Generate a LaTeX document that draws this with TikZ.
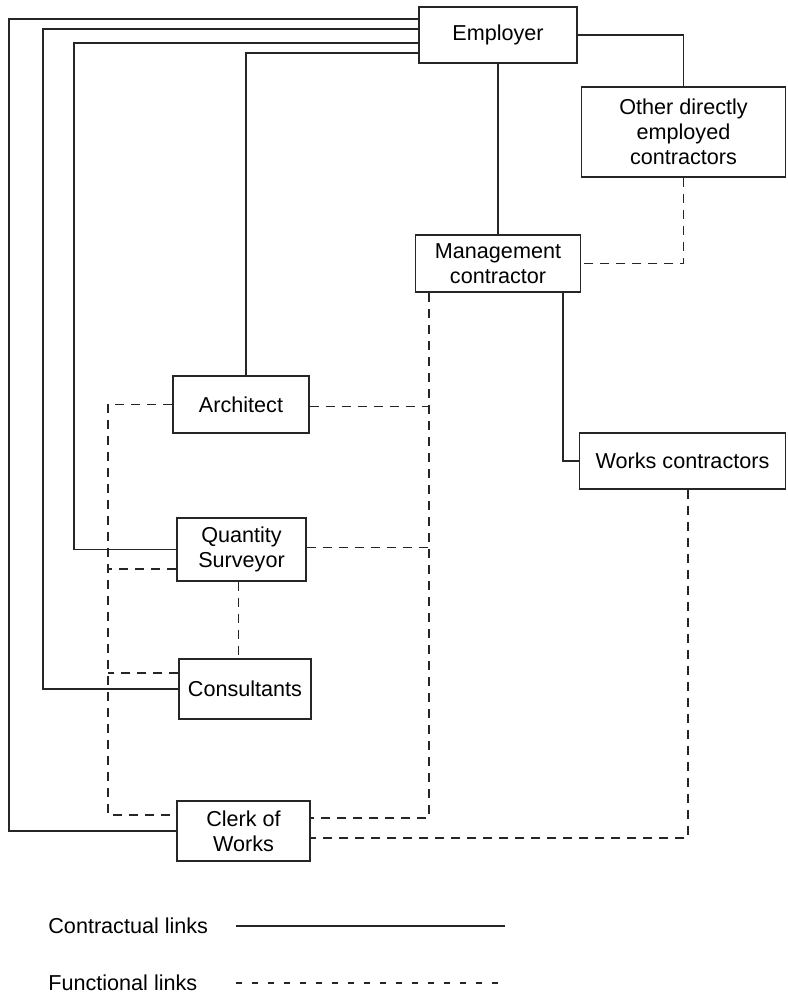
\documentclass[tikz,border=0pt]{standalone}
\usepackage{fontspec}
\setmainfont{Liberation Sans}
\usetikzlibrary{calc}
\begin{document}
\begin{tikzpicture}[x=0.5pt,y=-0.5pt,
  box/.style={draw=black!85,line width=0.6pt,align=center,inner sep=0pt,
    font=\fontsize{10.8}{12.5}\selectfont},
  contract/.style={draw=black!85,line width=0.6pt},
  funct/.style={draw=black!85,line width=0.6pt,dash pattern=on 4.5pt off 3.5pt},
  legtext/.style={anchor=west,inner sep=0pt,font=\fontsize{10.8}{12.5}\selectfont}]
\useasboundingbox (0,0) rectangle (787,995);
\node[box,minimum width=79pt,minimum height=28pt] (emp) at (498,35) {Employer};
\node[box,minimum width=102pt,minimum height=45pt] (other) at (683.5,132) {Other directly\\employed\\contractors};
\node[box,minimum width=82.5pt,minimum height=28.5pt] (mgmt) at (498,263.5) {Management\\contractor};
\node[box,minimum width=103pt,minimum height=28pt] (works) at (682.5,461) {Works contractors};
\node[box,minimum width=68pt,minimum height=28.5pt] (arch) at (241,404.5) {Architect};
\node[box,minimum width=64.5pt,minimum height=31.5pt] (qs) at (241.5,549.5) {Quantity\\Surveyor};
\node[box,minimum width=66pt,minimum height=30pt] (cons) at (245,689) {Consultants};
\node[box,minimum width=66.5pt,minimum height=30pt] (clerk) at (243.5,831) {Clerk of\\Works};
\coordinate (c1) at (9,19);
\coordinate (c2) at (43,29);
\coordinate (c3) at (74,43);
\coordinate (c4) at (246,53);
\coordinate (c5) at (563,461);
\coordinate (f1) at (429,818);
\coordinate (f2) at (108,815);
\coordinate (f3) at (108,569);
\coordinate (f4) at (108,673);
\coordinate (f5) at (688,838);
% contractual links
\draw[contract] (emp.west |- c1) -- (c1) |- (clerk);
\draw[contract] (emp.west |- c2) -- (c2) |- (cons);
\draw[contract] (emp.west |- c3) -- (c3) |- (qs);
\draw[contract] (emp.west |- c4) -- (c4) -- (c4 |- arch.north);
\draw[contract] (emp.east) -| (other.north);
\draw[contract] (emp) -- (mgmt);
\draw[contract] (c5 |- mgmt.south) -- (c5) -- (works.west);
% functional links
\draw[funct] (other.south) |- (mgmt.east);
\draw[funct] (f1 |- mgmt.south) -- (f1) -- (f1 -| clerk.east);
\draw[funct] ([yshift=-1pt]arch.east) -- ([yshift=-1pt]arch.east -| f1);
\draw[funct] ([yshift=1pt]qs.east) -- ([yshift=1pt]qs.east -| f1);
\draw[funct] (arch.west) -| (f2) -- (f2 -| clerk.west);
\draw[funct] (f3 -| qs.west) -- (f3);
\draw[funct] (f4 -| cons.west) -- (f4);
\draw[funct] ([xshift=-1.5pt]qs.south) -- ([xshift=-1.5pt]qs.south |- cons.north);
\draw[funct] (f5 |- works.south) -- (f5) -- (f5 -| clerk.east);
% legend
\node[legtext] (lc) at (48,926) {Contractual links};
\node[legtext] (lf) at (48,983) {Functional links};
\coordinate (lc1) at (236,926);
\coordinate (lc2) at (505,926);
\coordinate (lf1) at (236,983);
\coordinate (lf2) at (505,983);
\draw[contract] (lc1) -- (lc2);
\draw[draw=black!85,line width=0.6pt,dash pattern=on 3pt off 5pt] (lf1) -- (lf2);
\end{tikzpicture}
\end{document}
